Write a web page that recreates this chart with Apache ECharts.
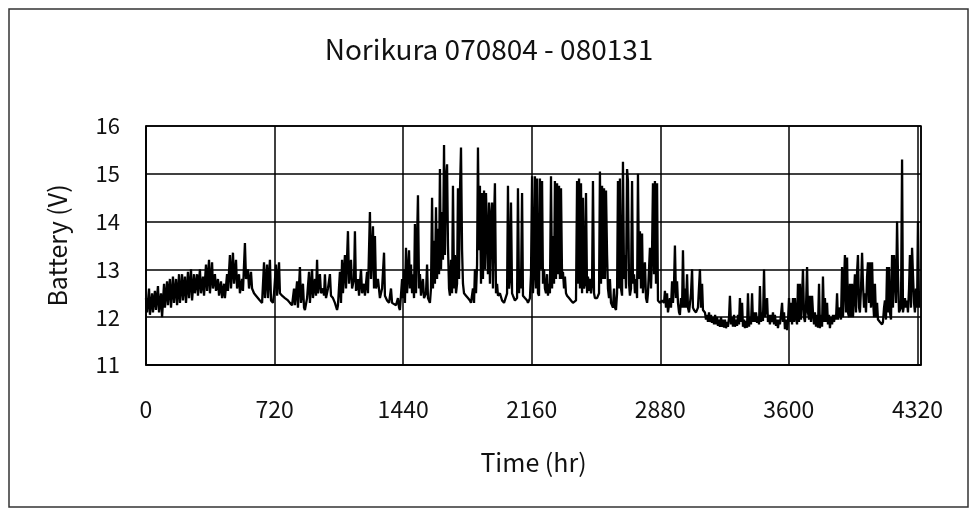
<!DOCTYPE html>
<html>
<head>
<meta charset="utf-8">
<title>Norikura battery</title>
<script src="https://cdn.jsdelivr.net/npm/echarts@6/dist/echarts.min.js"></script>
<style>
  html, body { margin: 0; padding: 0; background: #fff; }
  #chartsDOM { width: 978px; height: 516px; }
</style>
</head>
<body>
<div id="chartsDOM"></div>
<script>
// 读图得到的数据 [时间(hr), 电压(V)]
var aug = [[0,12.4],[6,12.1],[17,12.6],[22,12.05],[34,12.5],[39,12.1],[50,12.55],[56,12.15],[67,12.65],[73,12.1],
  [84,12.5],[90,12.0],[101,12.7],[106,12.2],[118,12.75],[123,12.25],[134,12.8],[140,12.2],[151,12.85],[157,12.3],
  [168,12.8],[174,12.25],[185,12.9],[190,12.3],[202,12.9],[207,12.35],[218,12.85],[224,12.3],[235,12.95],[241,12.4],
  [252,13.0],[258,12.35],[269,12.9],[274,12.5],[286,12.9],[291,12.45],[302,13.0],[308,12.5],[319,12.85],[325,12.45],
  [336,13.1],[342,12.55],[353,13.2],[358,12.5],[370,13.15],[375,12.6],[386,12.9],[392,12.55],[403,12.8],[409,12.45],
  [420,12.75],[426,12.4],[437,12.7],[442,12.4],[454,12.9],[459,12.55],[470,13.3],[476,12.6],[487,13.35],[493,12.7],
  [504,13.2],[510,12.6],[521,12.9],[526,12.5],[538,12.8],[543,12.55],[554,13.55],[560,12.8],[571,13.0],[577,12.6],
  [588,12.95],[594,12.6],[605,12.5],[616,12.45],[627,12.45],[638,12.35],[650,12.3],[661,13.15],[666,12.4],[678,13.1],
  [683,12.4],[694,13.2],[700,12.35],[711,12.3]];

var sep = [[717,12.5],[728,13.1],[734,12.45],[745,13.15],[750,12.5],[762,12.45],[778,12.4],[795,12.35],[806,12.3],[818,12.25],
  [829,12.6],[834,12.25],[846,12.75],[851,12.2],[862,13.05],[868,12.3],[879,12.7],[885,12.2],[890,12.15],[902,12.4],
  [913,12.95],[918,12.3],[930,13.0],[935,12.4],[946,12.8],[952,12.45],[958,13.2],[963,12.5],[974,12.9],[980,12.5],
  [991,12.6],[997,12.45],[1002,12.9],[1008,12.4],[1019,12.6],[1030,12.9],[1036,12.45],[1047,12.4],[1058,12.3],[1070,12.15],
  [1075,12.25],[1086,12.95],[1092,12.3],[1098,13.2],[1103,12.5],[1114,13.3],[1120,12.6],[1131,13.8],[1137,12.7],[1148,13.2],
  [1154,12.6],[1165,12.8],[1170,13.8],[1176,12.55],[1187,12.8],[1193,12.45],[1204,13.0],[1210,12.5],[1221,12.7],[1226,12.45],
  [1238,12.95],[1243,12.5],[1254,14.2],[1260,12.8],[1271,13.9],[1277,12.6],[1282,13.7],[1288,12.6],[1299,12.8],[1310,12.4],
  [1322,12.6],[1333,13.35],[1338,12.45],[1350,12.35],[1361,12.3],[1372,12.6],[1378,12.3],[1389,12.3],[1400,12.25],[1411,12.4],
  [1417,12.2],[1422,12.15],[1434,12.8],[1439,12.4]];

var oct = [[1445,13.0],[1450,12.3],[1456,13.45],[1462,12.5],[1473,13.4],[1478,12.6],[1484,13.1],[1490,12.5],[1495,12.9],[1501,12.4],
  [1506,13.95],[1512,12.5],[1523,14.55],[1529,12.6],[1534,12.9],[1540,12.45],[1551,12.8],[1557,12.4],[1568,12.5],[1574,13.1],
  [1579,12.4],[1590,12.3],[1596,12.6],[1602,14.5],[1607,12.6],[1613,13.6],[1618,12.7],[1624,14.3],[1630,12.8],[1635,13.85],
  [1641,12.9],[1646,15.1],[1652,13.0],[1658,14.2],[1663,13.2],[1669,15.6],[1674,13.3],[1680,14.9],[1686,15.2],[1691,13.5],
  [1697,12.6],[1702,12.45],[1708,13.2],[1714,12.5],[1719,14.75],[1725,12.6],[1730,13.3],[1736,12.5],[1742,12.7],[1747,14.7],
  [1753,12.8],[1758,14.6],[1764,15.55],[1770,13.4],[1775,12.7],[1781,12.5],[1792,12.45],[1803,12.4],[1814,12.35],[1820,12.3],
  [1831,12.6],[1837,12.3],[1842,13.0],[1848,12.5],[1854,13.1],[1859,15.55],[1865,13.4],[1870,14.75],[1876,12.7],[1882,14.6],
  [1887,12.8],[1893,14.65],[1898,13.0],[1904,14.6],[1910,14.6],[1915,12.9],[1921,14.4],[1926,12.7],[1932,14.1],[1938,14.4],
  [1943,12.6],[1949,14.0],[1954,14.8],[1960,12.5],[1966,12.7],[1971,12.45],[1982,12.5],[1994,12.35],[2005,12.3],[2016,12.3],
  [2022,12.5],[2027,14.75],[2033,12.6],[2038,12.8],[2044,14.4],[2050,12.5],[2055,12.45],[2066,12.35],[2078,12.4],[2083,14.7],
  [2089,12.5],[2094,13.0],[2100,12.6],[2106,14.6],[2111,12.45],[2122,12.4],[2134,12.35],[2139,12.3],[2150,12.4],[2156,12.9],
  [2162,14.95],[2167,12.5]];

var nov = [[2173,13.0],[2178,14.95],[2184,12.6],[2190,14.9],[2195,12.5],[2201,12.45],[2206,14.9],[2212,13.0],[2218,14.85],[2223,12.7],
  [2229,13.0],[2234,12.6],[2240,12.5],[2246,12.9],[2251,12.45],[2257,12.7],[2262,12.5],[2268,14.95],[2274,12.6],[2279,13.7],
  [2285,12.7],[2290,14.85],[2296,12.8],[2302,14.8],[2307,12.9],[2313,14.75],[2318,12.8],[2324,14.7],[2330,12.8],[2335,12.95],
  [2341,12.6],[2346,12.85],[2352,12.5],[2358,12.45],[2369,12.4],[2380,12.35],[2391,12.3],[2402,12.3],[2408,12.35],[2414,14.85],
  [2419,12.7],[2425,14.9],[2430,12.6],[2436,14.8],[2442,12.5],[2447,14.5],[2453,12.6],[2458,12.7],[2464,14.6],[2470,12.5],
  [2475,12.85],[2481,12.55],[2486,12.8],[2492,12.5],[2498,12.7],[2503,14.85],[2509,12.5],[2514,12.4],[2526,12.4],[2537,12.5],
  [2542,15.05],[2548,12.7],[2554,14.75],[2559,12.8],[2565,14.7],[2570,12.8],[2576,14.65],[2582,13.3],[2587,12.6],[2593,12.4],
  [2598,12.8],[2604,12.3],[2615,12.2],[2621,12.6],[2626,12.2],[2632,12.15],[2638,12.5],[2643,14.85],[2649,12.6],[2654,14.9],
  [2660,12.6],[2666,12.45],[2671,15.25],[2677,12.8],[2682,13.3],[2688,12.6],[2694,15.1],[2699,14.85],[2705,12.7],[2710,12.45],
  [2716,12.6],[2722,14.85],[2727,12.7],[2733,12.9],[2738,12.5],[2744,12.8],[2750,12.4],[2755,15.0],[2761,12.8],[2766,13.8],
  [2772,12.6],[2778,13.75],[2783,12.5],[2794,13.15],[2800,12.4],[2806,12.3],[2811,12.5],[2822,13.45],[2828,12.6],[2834,13.4],
  [2839,14.8],[2845,12.9],[2850,14.85],[2856,12.7],[2862,14.8],[2867,12.35],[2878,12.3]];

var dec = [[2890,12.35],[2901,12.3],[2906,12.55],[2912,12.2],[2918,12.5],[2923,12.1],[2929,12.1],[2934,12.4],[2940,12.2],[2946,12.75],
  [2951,12.3],[2957,12.7],[2962,13.5],[2968,12.4],[2974,12.75],[2979,12.3],[2985,12.1],[2990,12.05],[2996,12.4],[3002,12.2],
  [3007,13.4],[3013,12.2],[3018,12.6],[3024,12.2],[3030,12.9],[3035,12.2],[3041,12.1],[3046,12.1],[3052,12.5],[3058,13.0],
  [3063,12.2],[3069,12.15],[3080,12.1],[3091,12.2],[3102,13.0],[3108,12.2],[3114,12.7],[3119,12.15],
  [3130,12.1],[3136,11.95],[3142,12.05],[3147,11.9],[3153,12.1],[3158,11.9],[3164,12.05],[3170,11.88],[3175,12.0],[3181,11.85],
  [3187,12.05],[3192,11.85],[3198,12.0],[3203,11.82],[3209,11.95],[3214,11.8],[3220,12.0],[3226,11.8],[3231,11.95],[3237,11.78],
  [3242,11.95],[3248,11.77],[3254,11.9],[3259,11.8],[3265,12.0],[3270,12.45],[3276,11.85],[3282,12.0],[3287,11.8],[3293,12.05],
  [3298,11.8],[3304,11.95],[3310,11.82],[3315,12.05],[3321,11.85],[3326,12.4],[3332,11.9],[3338,12.3],[3343,11.8],[3349,11.95],
  [3354,11.77],[3360,11.92],[3366,11.78],[3371,12.5],[3377,11.8],[3382,12.0],[3388,11.85],[3394,12.5],[3399,11.9],[3405,12.1],
  [3410,11.9],[3416,12.1],[3422,11.88],[3427,12.0],[3433,11.85],[3438,12.65],[3444,11.9],[3450,12.1],[3455,11.92],[3461,13.0],
  [3466,12.0],[3472,12.2],[3478,12.4],[3483,11.9],[3489,12.05],[3494,11.85],[3500,12.05],[3506,11.9],[3511,12.1],[3517,11.85],
  [3522,12.05],[3528,11.82],[3534,11.95],[3539,11.77],[3545,11.95],[3550,11.85],[3556,12.05],[3562,12.3],[3567,11.9],[3573,12.1],
  [3578,11.75],[3584,11.95],[3590,11.73],[3595,11.9],[3601,12.4]];

var jan = [[3606,11.9],[3612,12.3],[3618,11.85],[3623,12.4],[3629,11.9],[3634,12.4],[3640,12.0],[3646,11.85],[3651,12.7],[3657,11.9],
  [3662,12.7],[3668,11.95],[3673,12.3],[3679,13.0],[3685,12.0],[3690,11.9],[3696,12.2],[3702,13.05],[3707,12.1],[3713,11.95],
  [3718,12.45],[3724,11.9],[3730,12.45],[3735,12.1],[3741,11.85],[3746,12.1],[3752,11.8],[3758,12.05],[3763,11.78],[3769,12.7],
  [3774,11.77],[3780,12.05],[3786,11.8],[3791,12.85],[3797,11.9],[3802,12.4],[3808,11.9],[3814,12.3],[3819,11.85],[3825,12.05],
  [3830,11.77],[3836,12.0],[3842,11.85],[3847,12.05],[3853,11.9],[3858,12.05],[3864,11.95],[3870,12.5],[3875,11.95],[3881,12.15],
  [3886,12.2],[3892,11.95],[3898,13.05],[3903,12.0],[3914,13.3],[3920,12.1],[3926,13.25],[3931,12.1],
  [3937,12.0],[3942,12.7],[3948,12.0],[3954,12.7],[3959,12.0],[3970,12.9],[3976,12.1],[3982,12.95],[3987,13.3],[3993,12.2],
  [3998,12.1],[4004,12.6],[4010,13.35],[4015,12.7],[4021,12.2],[4026,12.5],[4032,12.1],[4038,12.85],[4043,13.15],[4049,12.3],
  [4054,13.15],[4060,12.2],[4066,13.15],[4071,12.4],[4077,12.0],[4082,12.7],[4088,12.0],[4094,12.3],[4099,11.95],[4110,11.9],
  [4122,11.85],[4127,11.9],[4133,12.2],[4138,12.35],[4144,11.95],[4150,13.05],[4155,12.1],[4161,13.05],[4166,12.1],[4172,11.95],
  [4178,13.3],[4183,12.2],[4189,13.3],[4194,12.9],[4200,12.3],[4206,14.0],[4211,12.9],[4217,12.1],[4222,12.1],[4228,12.2],
  [4234,15.3],[4239,12.1],[4245,12.1],[4250,12.4],[4256,12.2],[4262,12.35],[4267,12.1],[4273,12.6],[4278,13.3],[4284,12.2],
  [4290,13.45],[4295,12.9],[4301,12.3],[4306,12.1],[4312,12.6],[4318,12.2],[4323,14.0],[4329,12.2]];

var xTicks = [0, 720, 1440, 2160, 2880, 3600, 4320];
var yTicks = [11, 12, 13, 14, 15, 16];

var readings = aug.concat(sep, oct, nov, dec, jan);

var myChart = echarts.init(document.getElementById('chartsDOM'));
var font = '"Noto Sans CJK JP", "Noto Sans", sans-serif';

var option = {
    backgroundColor: '#fff',
    animation: false,
    title: {
        text: 'Norikura 070804 - 080131',
        left: 'center',
        top: 30,
        textStyle: { color: '#111', fontSize: 28, fontWeight: 'normal', fontFamily: font }
    },
    graphic: [{
        type: 'rect',
        shape: { x: 9, y: 9, width: 959, height: 498 },
        style: { fill: 'none', stroke: '#333', lineWidth: 1.5 },
        z: -1
    }],
    grid: {
        left: 146, top: 126, right: 57, bottom: 151,
        show: true, borderColor: '#000', borderWidth: 1.5
    },
    xAxis: {
        type: 'value',
        min: 0,
        max: 4340,
        interval: 720,
        name: 'Time (hr)',
        nameLocation: 'middle',
        nameGap: 85,
        nameTextStyle: { color: '#111', fontSize: 25, fontFamily: font },
        axisLine: { lineStyle: { color: '#000', width: 1.5 } },
        axisTick: { show: false },
        axisLabel: {
            margin: 33, color: '#111', fontSize: 23, fontFamily: font,
            formatter: function (v) { return xTicks.indexOf(v) >= 0 ? String(v) : ''; }
        },
        splitLine: { show: true, lineStyle: { color: '#000', width: 1.5 } }
    },
    yAxis: {
        type: 'value',
        min: yTicks[0],
        max: yTicks[yTicks.length - 1],
        interval: 1,
        name: 'Battery (V)',
        nameLocation: 'middle',
        nameGap: 76,
        nameTextStyle: { color: '#111', fontSize: 25, fontFamily: font },
        axisLine: { lineStyle: { color: '#000', width: 1.5 } },
        axisTick: { show: false },
        axisLabel: { margin: 26, color: '#111', fontSize: 22, fontFamily: font },
        splitLine: { show: true, lineStyle: { color: '#000', width: 1.5 } }
    },
    series: [{
        type: 'line',
        data: readings,
        showSymbol: false,
        symbol: 'none',
        lineStyle: { color: '#000', width: 2.3, join: 'bevel' },
        z: 3
    }]
};
myChart.setOption(option);
</script>
</body>
</html>
